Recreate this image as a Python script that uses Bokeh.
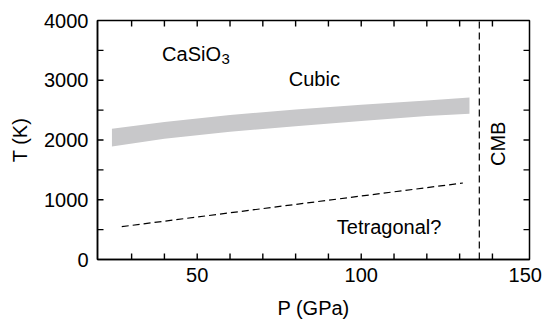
import math
from bokeh.plotting import figure
from bokeh.models import Range1d, LinearAxis, SingleIntervalTicker, Label, ColumnDataSource
from bokeh.embed import file_html
from bokeh.resources import INLINE

# ---- data ----
P_band = [24, 40, 60, 80, 100, 120, 133]
T_band_upper = [2190, 2300, 2420, 2510, 2590, 2660, 2710]
T_band_lower = [1890, 2020, 2140, 2230, 2320, 2400, 2440]

P_tetra = [27, 131]
T_tetra = [550, 1280]

P_cmb = 136

x_ticks = [50, 100, 150]                 # labelled ticks
y_ticks = [0, 1000, 2000, 3000, 4000]
x_tick_marks = [30, 40, 50, 60, 70, 80, 90, 100, 110, 120, 130, 140]
y_tick_marks = [500, 1000, 1500, 2000, 2500, 3000, 3500]

X_MIN, X_MAX = 19.6, 151.3
Y_MIN, Y_MAX = y_ticks[0], y_ticks[-1]

FONT = "Liberation Sans"
FS = "20px"

W, H = 548, 321
B_LEFT, B_RIGHT, B_TOP, B_BOTTOM = 97, 19, 20, 59
TICK_PX = 6

p = figure(width=W, height=H, output_backend="svg", toolbar_location=None,
           x_range=Range1d(X_MIN, X_MAX), y_range=Range1d(Y_MIN, Y_MAX),
           x_axis_type=None, y_axis_type=None)
p.min_border_left = B_LEFT
p.min_border_right = B_RIGHT
p.min_border_top = B_TOP
p.min_border_bottom = B_BOTTOM
p.outline_line_color = "black"
p.outline_line_width = 1.5
p.grid.visible = False
p.background_fill_color = "white"
p.border_fill_color = "white"


def make_axis(interval):
    ax = LinearAxis(ticker=SingleIntervalTicker(interval=interval, num_minor_ticks=0))
    ax.axis_line_width = 1.5
    ax.axis_line_color = "black"
    ax.major_tick_line_color = None
    ax.minor_tick_line_color = None
    ax.major_tick_in = 0
    ax.major_tick_out = 0
    ax.minor_tick_in = 0
    ax.minor_tick_out = 0
    ax.major_label_text_font = FONT
    ax.major_label_text_font_size = FS
    ax.major_label_text_color = "black"
    ax.axis_label_text_font = FONT
    ax.axis_label_text_font_size = FS
    ax.axis_label_text_font_style = "normal"
    ax.axis_label_text_color = "black"
    return ax


bottom = make_axis(x_ticks[1] - x_ticks[0])
bottom.major_label_standoff = 8
bottom.axis_label = "P (GPa)"
bottom.axis_label_standoff = 12
p.add_layout(bottom, "below")

left = make_axis(y_ticks[1] - y_ticks[0])
left.major_label_standoff = 9
left.axis_label = "T (K)"
left.axis_label_standoff = 10
p.add_layout(left, "left")

# gray band (cubic / tetragonal transition region)
p.varea(x=P_band, y1=T_band_lower, y2=T_band_upper, fill_color="#c8c8ca")

# tetragonal boundary
p.line(P_tetra, T_tetra, line_color="black", line_width=1.2, line_dash="7 4")
# core-mantle boundary
p.line([P_cmb, P_cmb], [Y_MIN, Y_MAX], line_color="black",
       line_width=1.2, line_dash="7 4")

# inward tick marks on all four sides
dx = TICK_PX * (X_MAX - X_MIN) / (W - B_LEFT - B_RIGHT)
dy = TICK_PX * (Y_MAX - Y_MIN) / (H - B_TOP - B_BOTTOM)
tx0, ty0, tx1, ty1 = [], [], [], []
for xm in x_tick_marks:
    tx0 += [xm, xm]; tx1 += [xm, xm]
    ty0 += [Y_MIN, Y_MAX - dy]; ty1 += [Y_MIN + dy, Y_MAX]
for ym in y_tick_marks:
    tx0 += [X_MIN, X_MAX - dx]; tx1 += [X_MIN + dx, X_MAX]
    ty0 += [ym, ym]; ty1 += [ym, ym]
ticks_src = ColumnDataSource(dict(x0=tx0, y0=ty0, x1=tx1, y1=ty1))
p.segment(x0="x0", y0="y0", x1="x1", y1="y1", source=ticks_src,
          line_color="black", line_width=1.4)


def lab(x, y, t, size=FS, align="left", baseline="alphabetic", angle=0.0):
    p.add_layout(Label(x=x, y=y, text=t, text_font=FONT, text_font_size=size,
                       text_align=align, text_baseline=baseline, angle=angle,
                       text_color="black"))


lab(39.3, 3444, "CaSiO")
lab(57.4, 3356, "3", size="15px")
lab(85.7, 3013, "Cubic", align="center")
lab(108.5, 551, "Tetragonal?", align="center")
lab(141.6, 1937, "CMB", align="center", angle=math.pi / 2)

open("out.html", "w").write(file_html(p, INLINE))
